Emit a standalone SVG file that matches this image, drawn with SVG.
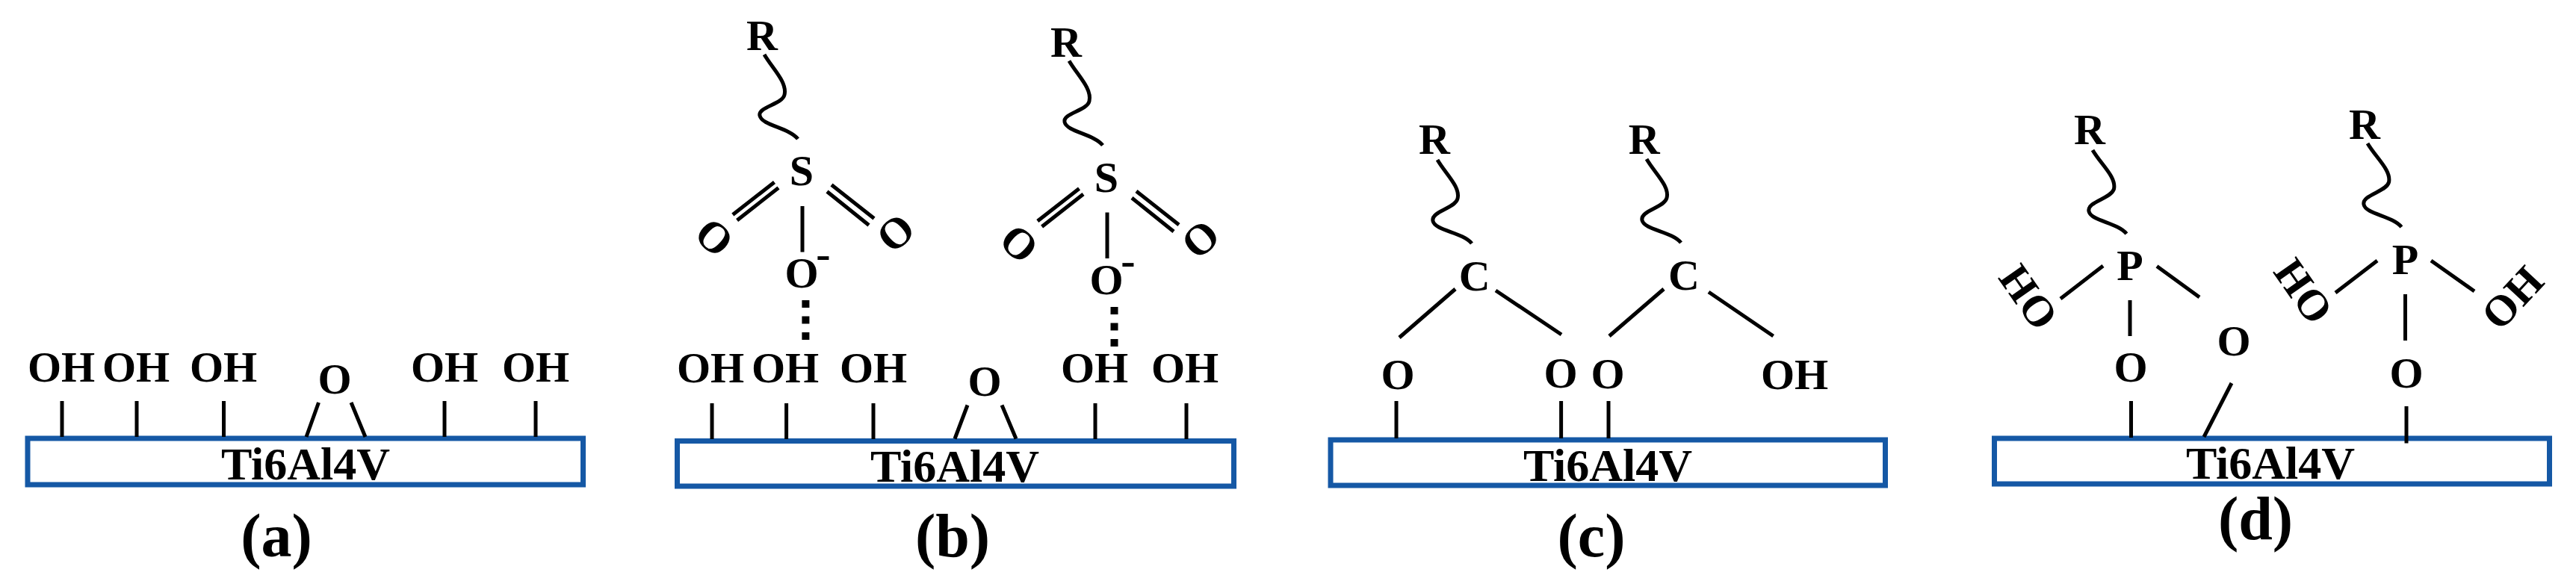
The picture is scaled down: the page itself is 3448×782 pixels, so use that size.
<svg xmlns="http://www.w3.org/2000/svg" width="3448" height="782" viewBox="0 0 3448 782">
<style>
text{font-family:"Liberation Serif","Times New Roman",serif;font-weight:700;fill:#000;text-anchor:middle}
.oh{font-size:58px}.el{font-size:58px}.sub{font-size:62px}.cap{font-size:82px}
.box{fill:#fff;stroke:#1558a5;stroke-width:7}
.bond{stroke:#000;stroke-width:5;fill:none;stroke-linecap:butt}
.wave{stroke:#000;stroke-width:5;fill:none}
.dots{stroke:#000;stroke-width:10;fill:none;stroke-dasharray:10 11.5}
</style>
<rect width="3448" height="782" fill="#fff"/>
<g id="substrates">
<g id="substrate-a"><rect class="box" x="37" y="587" width="743.5" height="62"/><text class="sub" x="409" y="642">Ti6Al4V</text></g>
<g id="substrate-b"><rect class="box" x="906.5" y="590.5" width="745" height="60.5"/><text class="sub" x="1278" y="645">Ti6Al4V</text></g>
<g id="substrate-c"><rect class="box" x="1781" y="589" width="742.5" height="61"/><text class="sub" x="2152" y="643.5">Ti6Al4V</text></g>
<g id="substrate-d"><rect class="box" x="2669.5" y="587" width="743" height="61"/><text class="sub" x="3039" y="641">Ti6Al4V</text></g>
</g>
<g id="connectors">
<path class="bond" d="M83 537V585M183 537V585M299.5 537V585M595 537V585M717 537V585M426.5 539L410 585M470 539L489 585"/>
<path class="bond" d="M953 540V588M1052.6 540V588M1169 540V588M1466 540V588M1588 540V588M1295 542.5L1278 587.5M1341 542.5L1360 587.5"/>
<path class="wave" d="M1023 73C1034 92 1054 110 1050 127C1047 140 1014 143 1017 155C1020 168 1056 171 1068 186"/>
<path class="bond" d="M1036.5 244L980.8 287.5M1042 251.5L986.6 295M1113 247.5L1170 292.5M1107 256.5L1163 301.5M1074 276V337.5"/>
<path class="dots" d="M1078.4 402V456"/>
<path class="wave" d="M1431 81.5C1442 100.5 1462 118.5 1458 135.5C1455 148.5 1422 151.5 1425 163.5C1428 176.500 1464 179.5 1476 194.5"/>
<path class="bond" d="M1444.5 252.5L1388.8 296M1450 260L1394.6 303.5M1521 256L1578 301M1515 265L1571 310M1482 284.5V346"/>
<path class="dots" d="M1491.5 411V465"/>
<path class="bond" d="M1869 537V587M2089.6 537V587M2153 537V587"/>
<path class="wave" d="M1924 214C1935 233 1955 250 1951 266C1948 279 1915 283 1918 296C1921 309 1958 311 1970 326"/>
<path class="wave" d="M2204 213C2215 232 2235 249 2231 265C2228 278 2195 282 2198 295C2201 308 2238 310 2250 325"/>
<path class="bond" d="M1948 387L1873 452M2002 389L2090 448M2227 387L2154 450M2287 391L2373.6 450"/>
<path class="bond" d="M2852.5 537V586M3221 544V593.5M2987 513L2950 585"/>
<path class="wave" d="M2801 201C2812 220 2833 237 2829.5 253C2826 266 2793 270 2796 283C2799 296 2834 298 2846.4 313"/>
<path class="wave" d="M3169 192C3180 211 3201 228 3197.5 244C3194 257 3161 261 3164 274C3167 287 3202 289 3214.4 304"/>
<path class="bond" d="M2815 356L2758 400M2887 356.5L2944 398M2851 402V450M3182 349L3126 392M3254 349L3312 390M3219.5 394V456"/>
</g>
<g id="panel-a">
<text class="oh" x="82" y="511">OH</text><text class="oh" x="182" y="511">OH</text><text class="oh" x="299" y="511">OH</text><text class="el" x="448" y="527">O</text><text class="oh" x="595" y="511">OH</text><text class="oh" x="717" y="511">OH</text>
<text class="cap" x="370" y="745">(a)</text>
</g>
<g id="panel-b">
<text class="oh" x="951" y="512">OH</text><text class="oh" x="1051" y="512">OH</text><text class="oh" x="1169" y="512">OH</text><text class="el" x="1318" y="530">O</text><text class="oh" x="1465" y="512">OH</text><text class="oh" x="1586" y="512">OH</text>
<text class="cap" x="1275" y="745">(b)</text>
<g id="sulfonate-1">
<text class="el" x="1020" y="67">R</text><text class="el" x="1073" y="248">S</text>
<text class="el" transform="translate(956 318) rotate(42)" y="19">O</text><text class="el" transform="translate(1199 312) rotate(-42)" y="19">O</text>
<text class="el" x="1073" y="385">O</text><text class="el" x="1102" y="359">-</text>
</g>
<g id="sulfonate-2">
<text class="el" x="1427" y="75.5">R</text><text class="el" x="1481" y="257">S</text>
<text class="el" transform="translate(1364 326.5) rotate(42)" y="19">O</text><text class="el" transform="translate(1607 320.5) rotate(-42)" y="19">O</text>
<text class="el" x="1481" y="393.5">O</text><text class="el" x="1510" y="367.5">-</text>
</g>
</g>
<g id="panel-c">
<text class="el" x="1871" y="521">O</text><text class="el" x="2089" y="518.5">O</text><text class="el" x="2152" y="519.5">O</text><text class="oh" x="2402" y="521">OH</text>
<text class="cap" x="2130" y="745">(c)</text>
<g id="carboxylate-1"><text class="el" x="1920" y="206">R</text><text class="el" x="1973.6" y="389">C</text></g>
<g id="carboxylate-2"><text class="el" x="2200.7" y="205.5">R</text><text class="el" x="2254" y="388">C</text></g>
</g>
<g id="panel-d">
<text class="el" x="2852" y="511">O</text><text class="el" x="2990" y="476">O</text><text class="el" x="3221" y="519">O</text>
<text class="cap" x="3019" y="722">(d)</text>
<g id="phosphonate-1"><text class="el" x="2797" y="193">R</text><text class="el" x="2851" y="375">P</text><text class="el" transform="translate(2715 398) rotate(55)" y="19">HO</text></g>
<g id="phosphonate-2"><text class="el" x="3165" y="185.5">R</text><text class="el" x="3219.5" y="367">P</text><text class="el" transform="translate(3083 390) rotate(55)" y="19">HO</text><text class="el" transform="translate(3363 399) rotate(-47)" y="19">OH</text></g>
</g>
</svg>
